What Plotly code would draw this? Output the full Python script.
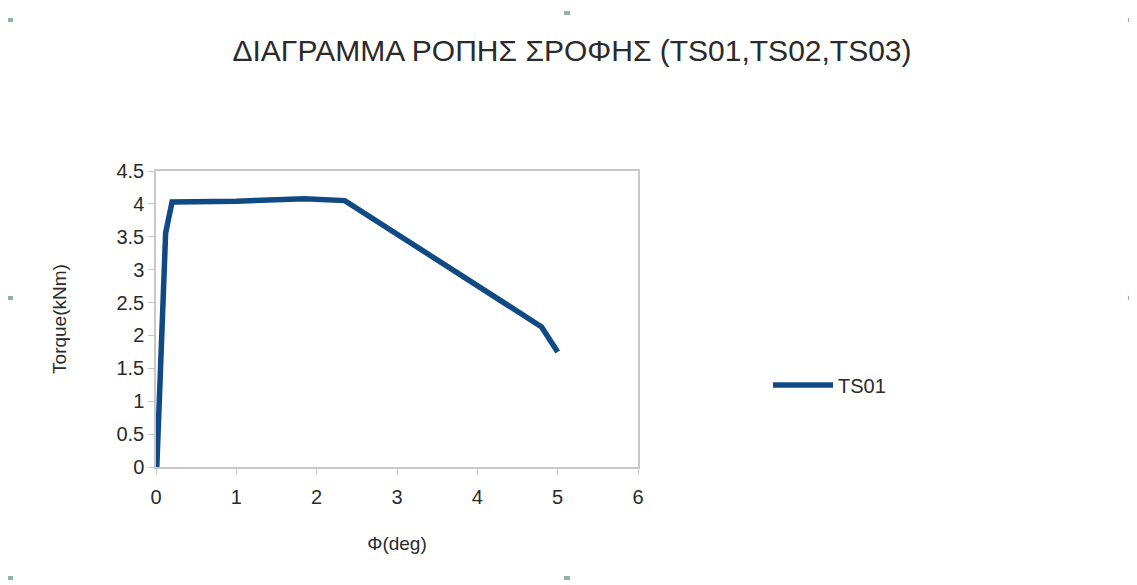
import plotly.graph_objects as go

phi_deg = [0.0, 0.01, 0.12, 0.2, 1.0, 1.85, 2.35, 4.8, 5.0]
torque_knm = [0.0, 0.0, 3.56, 4.03, 4.04, 4.08, 4.05, 2.13, 1.75]
series_name = "TS01"
title_text = "ΔΙΑΓΡΑΜΜΑ ΡΟΠΗΣ ΣΡΟΦΗΣ (TS01,TS02,TS03)"
x_ticks = [0, 1, 2, 3, 4, 5, 6]
y_ticks = [0, 0.5, 1, 1.5, 2, 2.5, 3, 3.5, 4, 4.5]

W, H = 1137, 585
OFF = 8  # page body offset
L = 156 - OFF
R = W - (638 - OFF)
T = 171 - OFF
B = H - (467 - OFF)
PW, PH = W - L - R, H - T - B


def px_to_paper(px, py):
    return (px - OFF - L) / PW, (H - B - (py - OFF)) / PH


FONT = "Liberation Sans, Arial"
TXT = "#2a2a2a"

fig = go.Figure()
fig.add_trace(go.Scatter(
    x=phi_deg, y=torque_knm, mode="lines", name=series_name,
    line=dict(color="#0f4a85", width=5.5),
))

axis_common = dict(
    showline=True, linecolor="#c8c8c8", linewidth=1.5, mirror=True,
    ticks="outside", tickcolor="#c8c8c8", ticklen=6, showgrid=False,
    zeroline=False, tickfont=dict(family=FONT, size=20, color=TXT),
)
fig.update_xaxes(range=[0, 6], tickvals=x_ticks, ticktext=[str(v) for v in x_ticks],
                 ticklabelstandoff=5,
                 title=dict(text="Φ(deg)", font=dict(family=FONT, size=19, color=TXT), standoff=30),
                 **axis_common)
fig.update_yaxes(range=[0, 4.5], tickvals=y_ticks, ticktext=[f"{v:g}" for v in y_ticks],
                 title=dict(text="Torque(kNm)", font=dict(family=FONT, size=19, color=TXT), standoff=45),
                 **axis_common)

handles = [(10, 20), (567, 13), (1131, 20), (10, 298), (1131, 298), (10, 578), (567, 578)]
shapes = []
for hx, hy in handles:
    x0, y0 = px_to_paper(hx - 3, hy + 2)
    x1, y1 = px_to_paper(hx + 3, hy - 2)
    shapes.append(dict(type="rect", xref="paper", yref="paper", x0=x0, x1=x1, y0=y0, y1=y1,
                       fillcolor="#8fb5a0", line=dict(width=0)))

lx, ly = px_to_paper(768, 385)
fig.update_layout(
    width=W, height=H, margin=dict(l=L, r=R, t=T, b=B),
    paper_bgcolor="white", plot_bgcolor="white",
    title=dict(text=title_text, x=(572 - OFF) / W, xanchor="center", y=1 - (50 - OFF) / H, yanchor="middle",
               font=dict(family=FONT, size=30, color=TXT)),
    showlegend=True,
    legend=dict(x=lx, y=ly, xanchor="left", yanchor="middle", itemwidth=60,
                font=dict(family=FONT, size=20, color=TXT), bgcolor="rgba(0,0,0,0)"),
    shapes=shapes,
)

fig.write_html("out.html")
